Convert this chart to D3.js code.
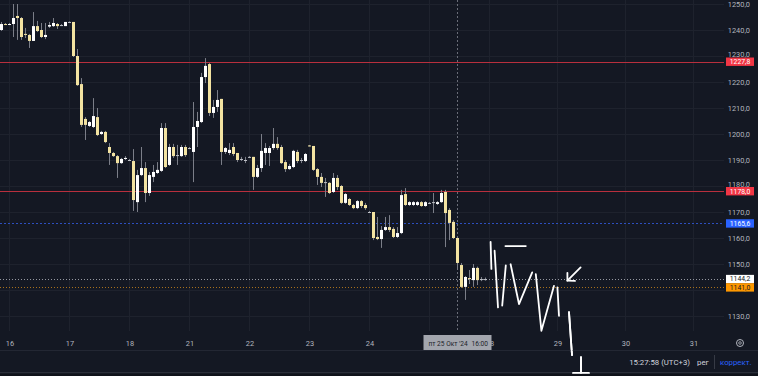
<!DOCTYPE html>
<html>
<head>
<meta charset="utf-8">
<script src="https://cdn.jsdelivr.net/npm/d3@7"></script>
<style>
  html, body { margin: 0; padding: 0; background: #141823; }
  svg { display: block; font-family: Roboto, "Open Sans", sans-serif; }
</style>
</head>
<body>
<div id="chart"></div>
<script>
// hourly bars, Oct 15 (last 2 bars) .. Oct 25 '24
const opens = [
  1240.0, 1242.3, 1242.1, 1242.3, 1245.4, 1244.6, 1238.5, 1238.1, 1235.8, 1241.5,
  1240.0, 1237.3, 1241.3, 1241.5, 1242.3, 1241.9, 1241.5, 1243.1, 1243.1, 1230.0,
  1219.2, 1205.8, 1203.1, 1202.7, 1206.5, 1200.0, 1200.8, 1195.0, 1192.7, 1191.5,
  1188.8, 1190.4, 1190.0, 1189.6, 1173.8, 1184.2, 1186.9, 1177.3, 1183.5, 1185.0,
  1185.8, 1202.3, 1188.1, 1195.0, 1191.9, 1191.5, 1195.0, 1194.6, 1193.1, 1202.7,
  1204.6, 1221.9, 1226.9, 1208.1, 1210.4, 1213.5, 1193.1, 1192.7, 1195.0, 1192.7,
  1190.4, 1190.0, 1191.2, 1191.2, 1183.5, 1186.9, 1192.7, 1192.7, 1194.6, 1196.2,
  1195.0, 1189.2, 1186.5, 1187.3, 1193.1, 1190.0, 1189.6, 1195.6, 1195.4, 1186.5,
  1183.5, 1181.5, 1181.2, 1177.7, 1183.1, 1180.0, 1173.5, 1175.0, 1172.7, 1171.5,
  1174.2, 1172.7, 1170.0, 1170.0, 1160.4, 1159.6, 1163.1, 1164.2, 1163.5, 1160.4,
  1161.9, 1176.9, 1172.7, 1172.7, 1172.7, 1173.8, 1172.3, 1173.5, 1173.8, 1173.1,
  1173.8, 1177.7, 1170.8, 1166.2, 1160.0, 1149.6, 1141.2, 1144.6, 1143.8, 1148.5,
  1144.2, 1144.2
];
const highs = [
  1243.1, 1242.7, 1242.7, 1250.0, 1250.0, 1245.0, 1240.8, 1238.5, 1246.9, 1243.5,
  1242.7, 1242.7, 1243.1, 1244.6, 1242.7, 1242.3, 1243.1, 1243.3, 1243.1, 1232.7,
  1221.5, 1206.5, 1205.0, 1213.8, 1210.0, 1201.2, 1201.2, 1196.5, 1193.1, 1191.9,
  1190.8, 1191.5, 1190.4, 1194.2, 1186.2, 1195.0, 1189.2, 1185.4, 1188.1, 1189.2,
  1204.2, 1204.2, 1196.2, 1196.2, 1195.8, 1195.8, 1195.8, 1195.0, 1212.3, 1208.5,
  1223.5, 1229.2, 1227.3, 1213.1, 1216.9, 1213.5, 1195.0, 1196.5, 1196.5, 1192.7,
  1191.2, 1191.2, 1191.5, 1191.2, 1188.1, 1200.0, 1196.5, 1195.4, 1202.3, 1198.8,
  1195.8, 1190.0, 1188.5, 1193.9, 1193.9, 1190.8, 1192.7, 1195.8, 1195.4, 1186.9,
  1185.0, 1183.1, 1181.5, 1185.0, 1184.2, 1180.4, 1177.3, 1175.4, 1173.1, 1174.6,
  1174.6, 1173.5, 1170.4, 1170.0, 1168.1, 1164.6, 1168.1, 1168.8, 1164.2, 1164.2,
  1178.5, 1179.2, 1174.2, 1174.2, 1174.2, 1174.2, 1174.2, 1173.8, 1177.3, 1174.2,
  1178.5, 1178.5, 1171.5, 1166.9, 1160.4, 1150.4, 1145.4, 1147.7, 1150.0, 1149.0,
  1145.0, 1144.8
];
const lows = [
  1239.6, 1241.9, 1241.9, 1237.3, 1236.2, 1236.2, 1236.9, 1233.1, 1235.8, 1239.2,
  1236.9, 1236.5, 1240.8, 1241.2, 1240.4, 1241.5, 1241.5, 1242.9, 1229.6, 1218.5,
  1202.7, 1197.7, 1202.7, 1202.3, 1199.2, 1199.6, 1196.5, 1188.1, 1191.2, 1183.1,
  1188.5, 1190.0, 1189.6, 1170.4, 1170.0, 1183.8, 1173.8, 1176.2, 1181.5, 1184.6,
  1185.4, 1186.9, 1187.7, 1190.8, 1188.1, 1191.2, 1191.2, 1194.2, 1181.5, 1195.0,
  1204.2, 1219.6, 1206.9, 1206.2, 1208.5, 1188.1, 1192.3, 1191.9, 1191.5, 1189.2,
  1189.6, 1188.8, 1190.8, 1178.5, 1183.1, 1185.4, 1188.1, 1187.7, 1193.9, 1193.9,
  1188.5, 1185.4, 1186.2, 1186.9, 1188.8, 1188.8, 1189.2, 1195.2, 1185.8, 1180.4,
  1179.6, 1175.8, 1176.9, 1177.3, 1178.5, 1173.1, 1173.1, 1172.3, 1171.1, 1171.1,
  1171.5, 1170.8, 1169.6, 1159.2, 1159.2, 1156.2, 1162.7, 1162.3, 1160.0, 1160.0,
  1161.5, 1172.3, 1172.3, 1172.3, 1172.3, 1172.0, 1172.0, 1173.1, 1169.6, 1172.7,
  1173.5, 1156.5, 1159.2, 1159.6, 1147.7, 1140.8, 1136.2, 1142.3, 1141.2, 1141.9,
  1143.4, 1143.6
];
const closes = [
  1242.3, 1242.1, 1242.3, 1244.6, 1244.6, 1237.3, 1238.1, 1235.8, 1241.5, 1239.6,
  1237.3, 1238.1, 1241.9, 1242.7, 1241.5, 1241.9, 1243.1, 1243.1, 1230.0, 1218.8,
  1203.5, 1203.5, 1204.6, 1206.9, 1199.6, 1200.8, 1196.9, 1192.7, 1191.5, 1188.8,
  1190.4, 1190.8, 1190.0, 1174.6, 1184.2, 1186.9, 1177.3, 1184.2, 1185.4, 1186.2,
  1202.3, 1187.3, 1195.0, 1191.5, 1191.9, 1195.0, 1191.9, 1194.6, 1202.7, 1205.0,
  1221.9, 1226.2, 1208.1, 1210.4, 1213.1, 1193.1, 1194.6, 1193.9, 1192.3, 1190.0,
  1190.4, 1190.0, 1191.2, 1183.5, 1186.9, 1193.5, 1194.6, 1194.6, 1196.2, 1194.6,
  1188.8, 1186.5, 1187.7, 1193.5, 1189.6, 1190.0, 1192.3, 1195.4, 1186.2, 1183.5,
  1181.2, 1181.5, 1177.3, 1183.1, 1179.6, 1173.5, 1176.9, 1172.7, 1171.5, 1174.2,
  1172.3, 1171.5, 1170.0, 1160.0, 1159.6, 1163.1, 1164.2, 1163.1, 1160.4, 1161.9,
  1176.5, 1172.7, 1173.8, 1173.8, 1173.8, 1172.3, 1173.8, 1173.5, 1173.8, 1173.8,
  1177.3, 1169.6, 1165.8, 1160.0, 1150.4, 1141.2, 1145.0, 1144.2, 1148.5, 1143.8,
  1144.2, 1144.2
];

// time axis: bar index where each day starts
const dayLabels = ["16", "17", "18", "21", "22", "23", "24", "25", "28", "29", "30", "31"];
const dayStart = [2, 17, 32, 47, 62, 77, 92, 107, 122, 139, 156, 173];

// price axis
const priceTicks = d3.range(1130, 1251, 10);
const levelPrices = [1227.8, 1178.0, 1165.6, 1144.2, 1141.0];

// crosshair (bar index) and its label
const crossBar = 114;
const crossText = ["пт 25 Окт '24", "16:00"];

// hand drawings, [bar index, price]
const strokes = [
  [[122.4, 1158.5], [122.6, 1148.1]],
  [[123.4, 1155.1], [124.25, 1133.3]],
  [[125.3, 1134.0], [126.2, 1149.5]],
  [[127.4, 1149.9], [129.5, 1134.6], [132.8, 1146.8]],
  [[133.7, 1146.1], [135.1, 1124.3], [138.25, 1141.6]],
  [[139.1, 1141.0], [139.5, 1130.1]],
  [[126.1, 1156.9], [131.2, 1156.9]],
  [[144.9, 1148.7], [141.6, 1143.6]],
  [[141.6, 1146.6], [141.6, 1143.6], [143.5, 1143.5]],
  [[142.0, 1131.5], [142.75, 1115.0]],
  [[145.0, 1114.2], [145.0, 1108.1]],
  [[143.0, 1108.1], [147.0, 1108.1]],
];

const W = 758, H = 376;
const paneRight = 724, paneBottom = 331;

const candles = d3.range(opens.length).map((i) => ({
  i, o: opens[i], h: highs[i], l: lows[i], c: closes[i],
}));

const x = d3.scaleLinear().domain([-0.25, 180.75]).range([0, paneRight]);
const y = d3.scaleLinear().domain([1130, 1250]).range([316, 4]);
const fmt = (d) => d3.format(".1f")(d).replace(".", ",");

const svg = d3.select("#chart").append("svg")
  .attr("width", W).attr("height", H);

svg.append("rect").attr("width", W).attr("height", H).attr("fill", "#141823");

// grid
const grid = svg.append("g").attr("stroke", "#1e222d");
grid.selectAll("line.h").data(priceTicks).join("line")
  .attr("x1", 0).attr("x2", paneRight)
  .attr("y1", (d) => Math.round(y(d)) + 0.5).attr("y2", (d) => Math.round(y(d)) + 0.5);
grid.selectAll("line.v").data(dayStart).join("line")
  .attr("y1", 0).attr("y2", paneBottom)
  .attr("x1", (d) => x(d) + 0.5).attr("x2", (d) => x(d) + 0.5);

// horizontal levels
const levelStyle = [
  { stroke: "#b82f3d", dash: null, bg: "#f23645", fg: "#ffffff" },
  { stroke: "#b82f3d", dash: null, bg: "#f23645", fg: "#ffffff" },
  { stroke: "#2d4fbf", dash: "2,2", bg: "#2962ff", fg: "#ffffff" },
  { stroke: "#9598a1", dash: "1,2", bg: "#ffffff", fg: "#131722" },
  { stroke: "#a8701c", dash: "1,2", bg: "#ff9800", fg: "#131722" },
];
svg.append("g").selectAll("line").data(levelPrices).join("line")
  .attr("x1", 0).attr("x2", paneRight)
  .attr("y1", (d) => Math.round(y(d)) + 0.5).attr("y2", (d) => Math.round(y(d)) + 0.5)
  .attr("stroke", (d, k) => levelStyle[k].stroke)
  .attr("stroke-dasharray", (d, k) => levelStyle[k].dash);

// crosshair
svg.append("line")
  .attr("x1", x(crossBar) + 0.5).attr("x2", x(crossBar) + 0.5)
  .attr("y1", 0).attr("y2", paneBottom)
  .attr("stroke", "#6a6d78").attr("stroke-dasharray", "2,2");

// candles
const bars = svg.append("g");
bars.selectAll("line").data(candles).join("line")
  .attr("x1", (d) => x(d.i) + 0.5).attr("x2", (d) => x(d.i) + 0.5)
  .attr("y1", (d) => y(d.h)).attr("y2", (d) => y(d.l))
  .attr("stroke", "#7b7e88");
bars.selectAll("rect").data(candles).join("rect")
  .attr("x", (d) => x(d.i) - 1)
  .attr("width", 3)
  .attr("y", (d) => y(Math.max(d.o, d.c)))
  .attr("height", (d) => Math.max(1, Math.abs(y(d.o) - y(d.c))))
  .attr("fill", (d) => (d.c > d.o ? "#ffffff" : d.c < d.o ? "#f3e3a1" : "#bfc1c7"));

// drawings
const pen = d3.line().x((p) => x(p[0])).y((p) => y(p[1]));
svg.append("g")
  .attr("fill", "none").attr("stroke", "#ffffff")
  .attr("stroke-width", 1.8).attr("stroke-linejoin", "round").attr("stroke-linecap", "round")
  .selectAll("path").data(strokes).join("path")
  .attr("d", pen);

// price axis (tick labels under a price tag are covered, as in the terminal)
const tagged = (d) => levelPrices.some((p) => Math.abs(y(p) - y(d)) < 6);
const axisY = svg.append("g")
  .attr("transform", `translate(${W - 5},0)`)
  .call(d3.axisLeft(y).tickValues(priceTicks).tickSize(0).tickFormat(fmt));
axisY.select(".domain").remove();
axisY.selectAll("text").attr("fill", "#b2b5be").attr("font-size", 7.4)
  .attr("font-family", "Roboto, sans-serif")
  .attr("dy", (d) => (tagged(d) ? "0.1em" : "0.32em"));

// price labels
const tags = svg.append("g").selectAll("g").data(levelPrices).join("g")
  .attr("transform", (d) => `translate(726,${y(d)})`);
tags.append("rect")
  .attr("x", 0).attr("y", -4.2).attr("width", 28).attr("height", 8.4)
  .attr("fill", (d, k) => levelStyle[k].bg);
tags.append("text")
  .attr("x", 14).attr("y", 2.4)
  .attr("text-anchor", "middle").attr("font-size", 6.8)
  .attr("fill", (d, k) => levelStyle[k].fg)
  .text(fmt);

// time axis; the day under the crosshair label is hidden by it
const crossDay = dayStart.filter((d) => Math.abs(x(d) - x(crossBar)) < 30);
const axisX = svg.append("g")
  .attr("transform", `translate(0.5,${paneBottom + 7})`)
  .call(d3.axisBottom(x).tickValues(dayStart.filter((d) => !crossDay.includes(d))).tickSize(0)
    .tickFormat((d) => dayLabels[dayStart.indexOf(d)]));
axisX.select(".domain").remove();
axisX.selectAll("text").attr("fill", "#b2b5be").attr("font-size", 7.4)
  .attr("font-family", "Roboto, sans-serif");

// crosshair time label
const ct = svg.append("g").attr("transform", `translate(${x(crossBar) + 0.5},343)`);
ct.append("rect").attr("x", -34).attr("y", -8).attr("width", 68).attr("height", 16)
  .attr("fill", "#a3a6ae");
ct.append("text").attr("x", -29).attr("y", 2.5).attr("font-size", 6.6).attr("fill", "#1c1f29")
  .text(crossText[0]);
ct.append("text").attr("x", 14).attr("y", 2.5).attr("font-size", 6.6).attr("fill", "#1c1f29")
  .text(crossText[1]);

// settings icon on the axis corner
svg.append("circle").attr("cx", 740).attr("cy", 343).attr("r", 3.5)
  .attr("fill", "none").attr("stroke", "#b2b5be").attr("stroke-width", 1);
svg.append("circle").attr("cx", 740).attr("cy", 343).attr("r", 1.3)
  .attr("fill", "none").attr("stroke", "#b2b5be").attr("stroke-width", 0.8);

// bottom status bar
svg.append("line").attr("x1", 0).attr("x2", W).attr("y1", 350.5).attr("y2", 350.5)
  .attr("stroke", "#232733");
svg.append("rect").attr("x", 0).attr("y", 372).attr("width", W).attr("height", 1.5)
  .attr("fill", "#2a2e39");
svg.append("rect").attr("x", 0).attr("y", 373.5).attr("width", W).attr("height", 3)
  .attr("fill", "#0f121a");
const status = svg.append("g").attr("font-size", 7.8).attr("fill", "#d1d4dc");
status.append("text").attr("x", 690).attr("y", 365).attr("text-anchor", "end").text("15:27:58 (UTC+3)");
status.append("text").attr("x", 697).attr("y", 365).text("рег");
status.append("line").attr("x1", 714.5).attr("x2", 714.5).attr("y1", 355).attr("y2", 369)
  .attr("stroke", "#363a45");
status.append("text").attr("x", 720).attr("y", 365).attr("fill", "#2962ff").text("коррект.");

// drawings that run over the status bar stay on top
svg.append("g")
  .attr("fill", "none").attr("stroke", "#ffffff")
  .attr("stroke-width", 1.8).attr("stroke-linecap", "round")
  .selectAll("path").data(strokes.slice(9)).join("path")
  .attr("d", pen);
</script>
</body>
</html>
